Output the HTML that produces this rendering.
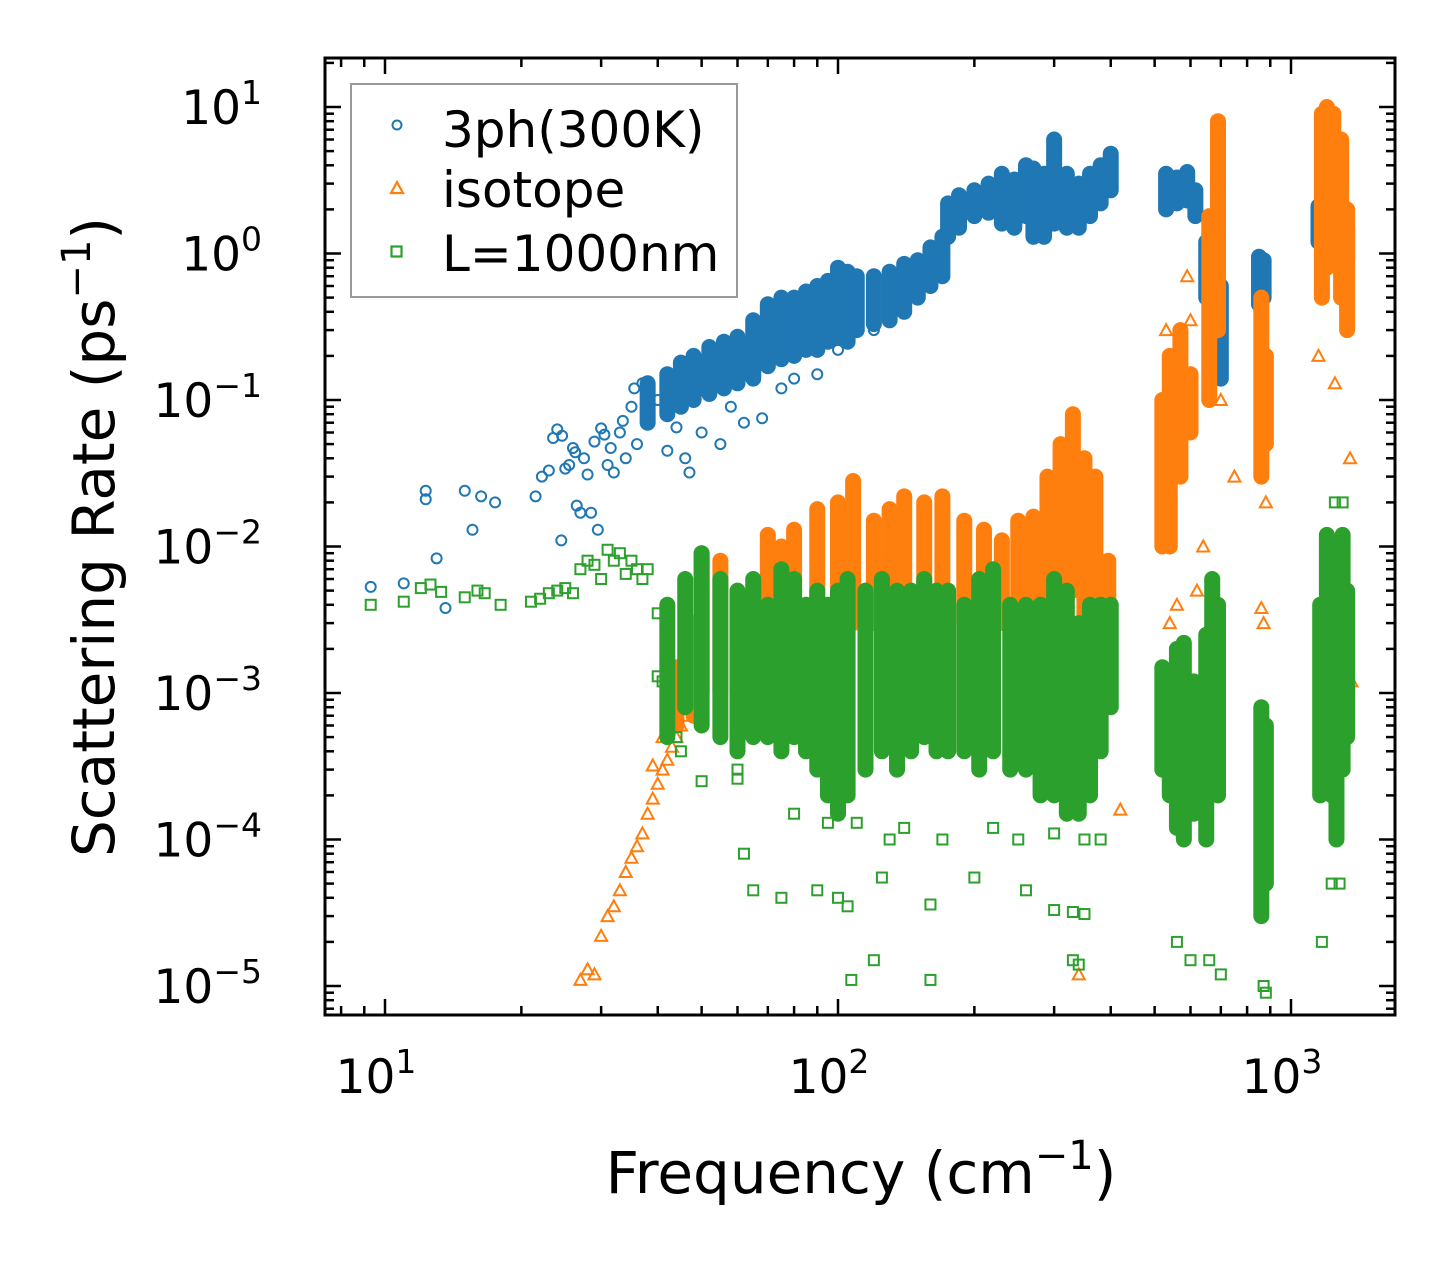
<!DOCTYPE html>
<html><head><meta charset="utf-8"><style>
body{margin:0;background:#fff}
svg{display:block;font-family:"DejaVu Sans","Liberation Sans",sans-serif}
</style></head><body>
<svg id="chart" width="1455" height="1265" viewBox="0 0 1455 1265" xmlns="http://www.w3.org/2000/svg">
<rect width="1455" height="1265" fill="#fff"/>
<g id="marks"></g>
<g id="axes"></g>
<text x="861" y="1193" font-size="58" text-anchor="middle">Frequency (cm<tspan dy="-24" font-size="40">−1</tspan><tspan dy="24">)</tspan></text>
<text transform="translate(114,537) rotate(-90)" font-size="58" text-anchor="middle">Scattering Rate (ps<tspan dy="-24" font-size="40">−1</tspan><tspan dy="24">)</tspan></text>
<g>
<rect x="351" y="84" width="386" height="213" fill="#fff" stroke="#999" stroke-width="2"/>
<circle cx="397" cy="125" r="4.5" fill="none" stroke="#1f77b4" stroke-width="2"/>
<polygon points="397,182 403,193 391,193" fill="none" stroke="#ff7f0e" stroke-width="2.2"/>
<rect x="391.5" y="246.5" width="10" height="10" fill="none" stroke="#2ca02c" stroke-width="2.2"/>
<text x="442" y="147" font-size="50">3ph(300K)</text>
<text x="442" y="207" font-size="50">isotope</text>
<text x="442" y="271" font-size="50">L=1000nm</text>
</g>
</svg>
<script>
const blueBands=[[38,0.07,0.13],[42,0.08,0.15],[45,0.09,0.18],[48,0.1,0.2],[52,0.11,0.23],[56,0.12,0.25],[60,0.13,0.27],[65,0.14,0.35],[70,0.17,0.45],[75,0.19,0.5],[80,0.2,0.5],[85,0.22,0.55],[90,0.22,0.6],[95,0.25,0.65],[100,0.27,0.8],[105,0.25,0.75],[110,0.3,0.7],[120,0.33,0.7],[130,0.35,0.75],[140,0.4,0.85],[150,0.5,0.9],[160,0.6,1.1],[170,0.7,1.3],[175,1.3,2.2],[185,1.5,2.5],[200,1.8,2.7],[215,1.9,3],[230,1.6,3.5],[245,1.5,3.2],[260,1.8,4],[270,1.3,3.8],[285,1.3,3.5],[300,1.6,6],[320,1.5,3.5],[340,1.5,3],[360,1.8,3.5],[380,2.2,4],[400,2.7,4.8],[530,2,3.5],[560,2.2,3.3],[590,2.3,3.6],[615,1.8,2.7],[650,0.5,1.2],[670,0.3,0.9],[700,0.14,0.6],[850,0.45,0.95],[870,0.5,0.9],[1150,1.2,2.1],[1330,0.9,1.5]];
const bluePoints=[[9.3,0.0053],[11,0.0056],[12.3,0.021],[12.3,0.024],[13,0.0083],[13.6,0.0038],[15,0.024],[15.6,0.013],[16.3,0.022],[17.5,0.020],[21.5,0.022],[22.2,0.030],[23,0.033],[23.5,0.055],[24,0.063],[24.5,0.011],[25,0.034],[24.6,0.057],[25.5,0.036],[26,0.047],[26.3,0.044],[26.5,0.019],[27,0.017],[27.5,0.04],[28,0.031],[28.5,0.017],[29,0.052],[29.5,0.013],[30,0.064],[30.5,0.058],[31,0.036],[31.5,0.047],[32,0.032],[33,0.06],[33.5,0.072],[34,0.04],[35,0.09],[35.5,0.12],[36,0.05],[37,0.13],[38,0.08],[40,0.1],[42,0.045],[44,0.065],[46,0.04],[47,0.032],[50,0.06],[55,0.05],[58,0.09],[62,0.07],[68,0.075],[75,0.12],[80,0.14],[90,0.15],[100,0.22],[120,0.3]];
const orangeBands=[[44,6e-4,1.5e-3],[48,7e-4,3e-3],[50,1e-3,9e-3],[55,1e-3,8e-3],[60,6e-4,2e-3],[65,8e-4,1.8e-3],[70,1e-3,1.2e-2],[75,2e-3,1e-2],[80,2e-3,1.3e-2],[90,2.5e-3,1.8e-2],[100,2.5e-3,2e-2],[108,3e-3,2.8e-2],[120,3e-3,1.5e-2],[130,3e-3,1.8e-2],[140,3e-3,2.2e-2],[155,3e-3,2.0e-2],[170,3e-3,2.2e-2],[190,3e-3,1.5e-2],[210,3e-3,1.3e-2],[230,3e-3,1.1e-2],[250,4e-3,1.5e-2],[270,4e-3,1.6e-2],[290,4e-3,3e-2],[310,5e-3,5e-2],[330,5e-3,8e-2],[350,3e-3,4e-2],[370,2e-3,3e-2],[395,1e-3,8e-3],[520,1e-2,0.1],[540,0.01,0.2],[570,0.03,0.3],[600,0.06,0.15],[660,0.1,1.8],[690,0.3,8],[860,0.03,0.5],[880,0.05,0.2],[1170,0.5,9],[1200,0.8,10],[1240,1,9],[1290,0.5,6],[1330,0.3,2]];
const orangePoints=[[27,1.1e-5],[28,1.3e-5],[29,1.2e-5],[30,2.2e-5],[31,3e-5],[32,3.5e-5],[33,4.5e-5],[34,6e-5],[35,7.5e-5],[36,9e-5],[37,1.1e-4],[38,1.5e-4],[39,1.9e-4],[40,2.4e-4],[41,3e-4],[42,3.5e-4],[43,4.3e-4],[44,5e-4],[45,6e-4],[46,7e-4],[47,8e-4],[39,3.2e-4],[41,5e-4],[590,0.7],[530,0.3],[600,0.35],[540,3e-3],[560,4e-3],[620,5e-3],[640,0.01],[700,0.1],[750,0.03],[860,3.8e-3],[870,3e-3],[1150,0.2],[1250,0.13],[1350,0.04],[1360,1.2e-3],[420,1.6e-4],[340,1.2e-5],[880,0.02]];
const greenBands=[[42,5e-4,4e-3],[46,8e-4,6e-3],[50,6e-4,9e-3],[55,5e-4,6e-3],[60,4e-4,5e-3],[65,5e-4,6e-3],[70,5e-4,4e-3],[75,4e-4,7e-3],[80,5e-4,6e-3],[85,4e-4,4e-3],[90,3e-4,5e-3],[95,2e-4,4e-3],[100,1.5e-4,5e-3],[105,2e-4,6e-3],[115,3e-4,5e-3],[125,4e-4,6e-3],[135,3e-4,5e-3],[145,4e-4,5e-3],[155,5e-4,6e-3],[165,4e-4,5e-3],[175,4e-4,5e-3],[190,4e-4,4e-3],[205,3e-4,6e-3],[220,4e-4,7e-3],[240,3e-4,4e-3],[260,3e-4,4e-3],[280,2e-4,4e-3],[300,2e-4,6e-3],[320,1.5e-4,5e-3],[340,1.5e-4,3e-3],[360,2e-4,4e-3],[380,4e-4,4e-3],[400,8e-4,4e-3],[520,3e-4,1.5e-3],[540,2e-4,1e-3],[560,1.2e-4,2e-3],[580,1e-4,2.2e-3],[610,1.5e-4,1.2e-3],[650,1e-4,2.5e-3],[670,3e-4,6e-3],[690,2e-4,4e-3],[860,3e-5,8e-4],[880,5e-5,6e-4],[1160,2e-4,4e-3],[1200,3e-4,1.2e-2],[1230,2e-4,8e-3],[1260,1e-4,1e-2],[1300,3e-4,1.2e-2],[1330,5e-4,5e-3]];
const greenPoints=[[9.3,0.004],[11,0.0042],[12,0.0052],[12.6,0.0055],[13.3,0.0049],[15,0.0045],[16,0.005],[16.6,0.0048],[18,0.004],[21,0.0042],[22,0.0044],[23,0.0048],[24,0.005],[25,0.0052],[26,0.0048],[27,0.007],[28,0.008],[29,0.0075],[30,0.006],[31,0.0095],[32,0.008],[33,0.009],[34,0.0065],[35,0.008],[36,0.007],[37,0.006],[38,0.007],[40,0.0035],[40,0.0013],[41,0.0012],[44,0.0005],[45,0.0004],[50,0.00025],[60,0.00026],[60,0.0003],[62,0.00008],[75,0.00004],[65,0.000045],[90,0.000045],[100,0.00004],[105,0.000035],[107,0.000011],[120,0.000015],[160,0.000011],[125,0.000055],[160,0.000036],[200,0.000055],[260,0.000045],[300,0.000033],[330,0.000032],[350,0.000031],[330,0.000015],[340,0.000014],[80,0.00015],[95,0.00013],[110,0.00013],[140,0.00012],[170,0.0001],[130,0.0001],[220,0.00012],[250,0.0001],[300,0.00011],[350,0.0001],[380,0.0001],[560,2e-5],[600,1.5e-5],[660,1.5e-5],[700,1.2e-5],[870,1e-5],[880,0.9e-5],[1170,2e-5],[1230,5e-5],[1280,5e-5],[1250,0.02],[1300,0.02]];
const xTickLabels=["1","2","3"];
const yTickLabels=["1","0","−1","−2","−3","−4","−5"];

const NS="http://www.w3.org/2000/svg";
const L=325,R=1395,T=58,B=1015;
const X10=385,XDEC=453,Y10=107,YDEC=146.5;
function sx(v){return X10+(Math.log10(v)-1)*XDEC;}
function sy(v){return Y10+(1-Math.log10(v))*YDEC;}
function mk(tag,attrs,parent){const e=document.createElementNS(NS,tag);for(const k in attrs)e.setAttribute(k,attrs[k]);parent.appendChild(e);return e;}
const marksG=document.getElementById('marks'),axesG=document.getElementById('axes');
const C={blue:"#1f77b4",orange:"#ff7f0e",green:"#2ca02c"};
function drawSeries(bands,points,col,shape,name){
  bands.forEach(b=>{
    const e=mk('line',{x1:sx(b[0]),x2:sx(b[0]),y1:sy(b[1]),y2:sy(b[2]),stroke:col,'stroke-width':16,'stroke-linecap':'round'},marksG);
    
    
  });
  points.forEach(p=>{
    const x=sx(p[0]),y=sy(p[1]);let e;
    if(shape==='c')e=mk('circle',{cx:x,cy:y,r:5,fill:'none',stroke:col,'stroke-width':2},marksG);
    else if(shape==='t')e=mk('polygon',{points:`${x},${y-6} ${x+6},${y+5} ${x-6},${y+5}`,fill:'none',stroke:col,'stroke-width':2},marksG);
    else e=mk('rect',{x:x-5,y:y-5,width:10,height:10,fill:'none',stroke:col,'stroke-width':2},marksG);
    
    
  });
}
drawSeries(blueBands,bluePoints,C.blue,'c','3ph-300k');
drawSeries(orangeBands,orangePoints,C.orange,'t','isotope');
drawSeries(greenBands,greenPoints,C.green,'s','l-1000nm');

const fr=mk('rect',{x:L,y:T,width:R-L,height:B-T,fill:'none',stroke:'#000','stroke-width':3},axesG);


for(let d=0;d<=3;d++){
  for(let m=1;m<10;m++){
    const v=m*Math.pow(10,d);const x=sx(v);
    if(x<L||x>R)continue;
    const len=m===1?16:9;
    mk('line',{x1:x,x2:x,y1:B,y2:B-len,stroke:'#000','stroke-width':2.5},axesG);
    mk('line',{x1:x,x2:x,y1:T,y2:T+len,stroke:'#000','stroke-width':2.5},axesG);
  }
}
xTickLabels.forEach((s,i)=>{
  const x=sx(Math.pow(10,i+1));
  const t=mk('text',{x:x-9,y:1093,'font-size':47,'text-anchor':'middle'},axesG);
  t.textContent='10';
  const sup=mk('tspan',{dy:-20,'font-size':33},t);sup.textContent=s;
  
  
});
for(let d=-6;d<=1;d++){
  for(let m=1;m<10;m++){
    const v=m*Math.pow(10,d);const y=sy(v);
    if(y<T||y>B)continue;
    const len=m===1?16:9;
    mk('line',{x1:L,x2:L+len,y1:y,y2:y,stroke:'#000','stroke-width':2.5},axesG);
    mk('line',{x1:R,x2:R-len,y1:y,y2:y,stroke:'#000','stroke-width':2.5},axesG);
  }
}
yTickLabels.forEach((s,i)=>{
  const y=sy(Math.pow(10,1-i));
  const t=mk('text',{x:262,y:y+17,'font-size':47,'text-anchor':'end'},axesG);
  t.textContent='10';
  const sup=mk('tspan',{dy:-20,'font-size':33},t);sup.textContent=s;
  
  
});
</script>
</body></html>
